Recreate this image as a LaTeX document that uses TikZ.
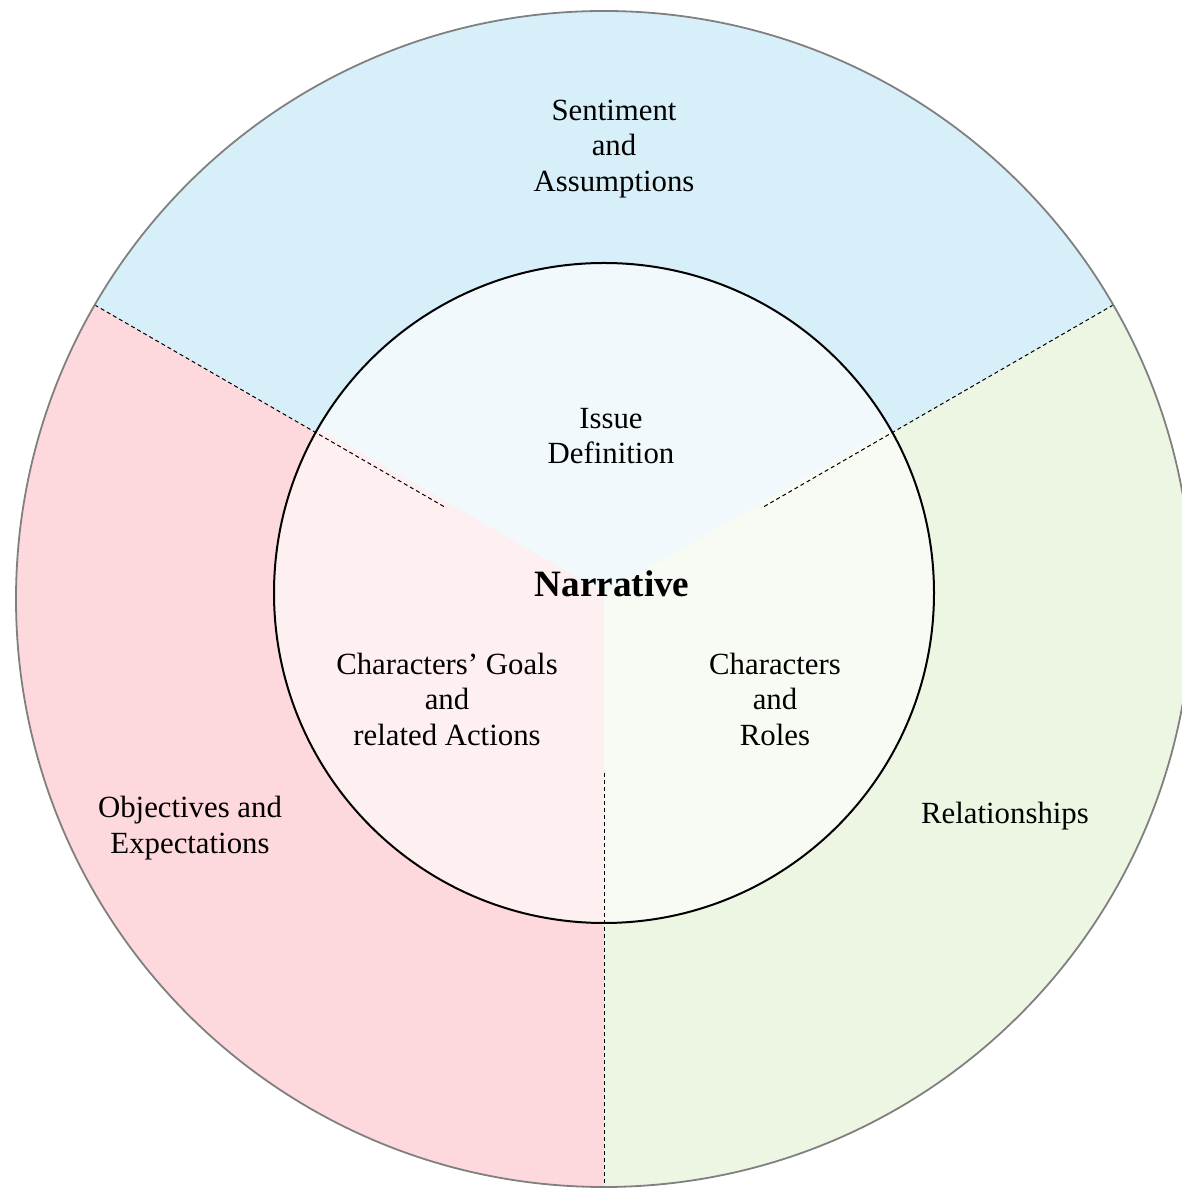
\documentclass[tikz,border=0pt]{standalone}
\usepackage{fontspec}
\usetikzlibrary{calc}
\setmainfont{Liberation Serif}
\definecolor{outblue}{RGB}{214,239,249}
\definecolor{outpink}{RGB}{253,216,220}
\definecolor{outgreen}{RGB}{237,246,227}
\definecolor{inblue}{RGB}{242,249,253}
\definecolor{inpink}{RGB}{254,240,241}
\definecolor{ingreen}{RGB}{247,251,244}
\definecolor{rimgray}{RGB}{128,128,128}
\tikzset{
  lbl/.style={inner sep=0pt, align=center, font=\fontsize{15.4}{17.75}\selectfont},
  title/.style={inner sep=0pt, align=center, font=\fontsize{18.6}{21}\selectfont\bfseries},
  divider/.style={line width=0.5pt, dash pattern=on 2pt off 1.5pt},
}
\begin{document}
\begin{tikzpicture}[x=0.5pt,y=0.5pt]
\useasboundingbox (0,0) rectangle (1182,1189);
\clip (0,0) rectangle (1182,1189);
\coordinate (O) at (604,590);
\coordinate (C) at (604,596);
% outer sectors
\fill[outblue]  (O) -- ++(30:294pt)  arc[start angle=30,  end angle=150, radius=294pt] -- cycle;
\fill[outpink]  (O) -- ++(150:294pt) arc[start angle=150, end angle=270, radius=294pt] -- cycle;
\fill[outgreen] (O) -- ++(270:294pt) arc[start angle=270, end angle=390, radius=294pt] -- cycle;
% inner sectors
\fill[inblue]  (C) -- ++(30:165pt)  arc[start angle=30,  end angle=150, radius=165pt] -- cycle;
\fill[inpink]  (C) -- ++(150:165pt) arc[start angle=150, end angle=270, radius=165pt] -- cycle;
\fill[ingreen] (C) -- ++(270:165pt) arc[start angle=270, end angle=390, radius=165pt] -- cycle;
% dividers
\coordinate (l1) at ($(O)+(150:294pt)$);
\coordinate (l2) at ($(O)+(150:91pt)$);
\coordinate (r1) at ($(O)+(30:294pt)$);
\coordinate (r2) at ($(O)+(30:91pt)$);
\coordinate (b1) at ($(O)+(270:294pt)$);
\coordinate (b2) at ($(O)+(270:87pt)$);
\draw[divider] (l1) -- (l2);
\draw[divider] (r1) -- (r2);
\draw[divider] (b2) -- (b1);
% circles
\draw[line width=1pt, black] (C) circle[radius=165pt];
\draw[line width=0.9pt, rimgray] (O) circle[radius=294pt];
% labels
\node[lbl] (sent) at (614,1040) {Sentiment\\and\\Assumptions};
\node[lbl] (issue) at (611,753) {Issue\\Definition};
\node[title] (narr) at (612,605) {Narrative};
\node[lbl] (goals) at (447,490) {Characters’ Goals\\and\\related Actions};
\node[lbl] (roles) at (775,490) {Characters\\and\\Roles};
\node[lbl] (obj) at (190,361) {Objectives and\\Expectations};
\node[lbl] (rel) at (1005,373) {Relationships};
\end{tikzpicture}
\end{document}
